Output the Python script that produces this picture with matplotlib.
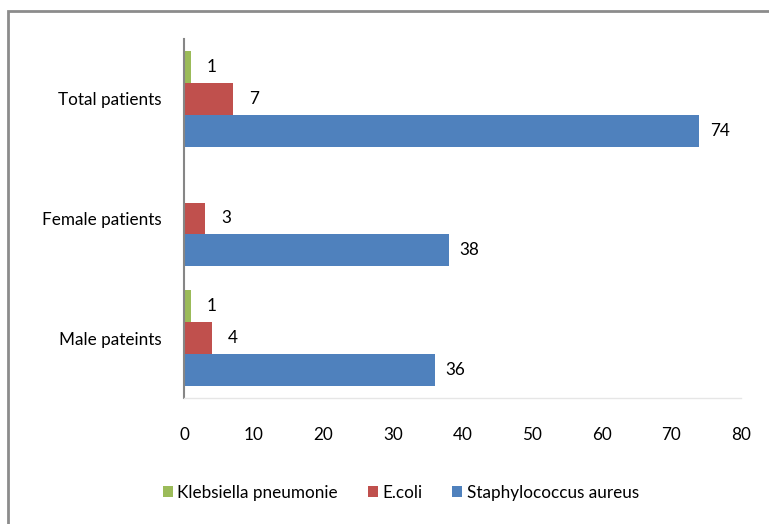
import matplotlib.pyplot as plt
import numpy as np
from matplotlib.patches import Rectangle

plt.rcParams['font.family'] = ['Lato', 'DejaVu Sans']

categories = ['Male pateints', 'Female patients', 'Total patients']
staph = [36, 38, 74]
ecoli = [4, 3, 7]
klebsiella = [1, 0, 1]

series = [
    ('Staphylococcus aureus', staph, '#4F81BD', -1),
    ('E.coli', ecoli, '#C0504D', 0),
    ('Klebsiella pneumonie', klebsiella, '#9BBB59', 1),
]

fig = plt.figure(figsize=(7.69, 5.24), dpi=100)
ax = fig.add_axes([0.2393, 0.2405, 0.7243, 0.6851])

y = np.arange(len(categories))
h = 0.8 / 3
handles = {}
for name, vals, color, off in series:
    bars = ax.barh(y + off * h, vals, height=h, color=color, label=name)
    handles[name] = bars
    for yy, v in zip(y + off * h, vals):
        if v > 0:
            ax.text(v + 3.0, yy, str(v), va='center', ha='center', fontsize=12.3)

ax.set_xlim(0, 80)
ax.set_ylim(-0.5, 2.5)
ax.set_xticks(range(0, 81, 10))
ax.set_yticks(y)
ax.set_yticklabels(categories)
ax.tick_params(axis='both', length=0, labelsize=12.3)
ax.tick_params(axis='x', pad=21)
ax.tick_params(axis='y', pad=16)
for s in ['top', 'right']:
    ax.spines[s].set_visible(False)
ax.spines['left'].set_color('#868686')
ax.spines['left'].set_linewidth(1.5)
ax.spines['bottom'].set_color('#e6e6e6')
ax.spines['bottom'].set_linewidth(1)

order = ['Klebsiella pneumonie', 'E.coli', 'Staphylococcus aureus']
fig.legend([handles[n] for n in order], order, loc='center',
           bbox_to_anchor=(0.521, 0.06), ncol=3, frameon=False,
           fontsize=12.3, handlelength=0.6, handleheight=0.6,
           handletextpad=0.25, columnspacing=1.75)

# outer chart border
fig.patches.append(Rectangle((8 / 769, -0.1), 1.1, 1.1 - 11 / 524,
                             transform=fig.transFigure, fill=False,
                             edgecolor='#8c8c8c', linewidth=2))

fig.savefig('out.png', dpi=100)
